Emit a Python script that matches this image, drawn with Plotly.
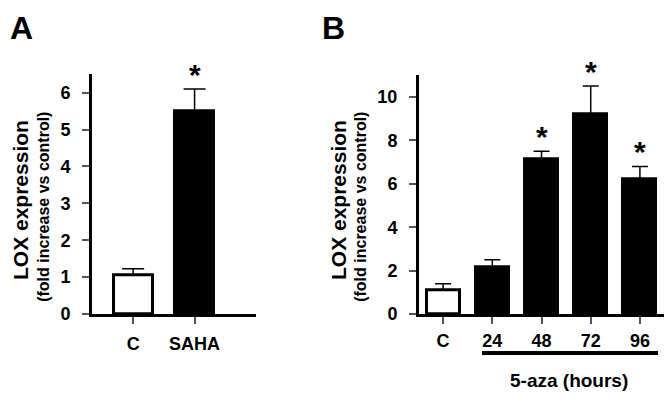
import plotly.graph_objects as go

# panel A: SAHA treatment
a_labels = ['C', 'SAHA']
a_values = [1.05, 5.5]
a_err = [0.18, 0.6]
a_fill = ['white', 'black']
a_sig = [False, True]

# panel B: 5-aza time course (hours)
b_labels = ['C', '24', '48', '72', '96']
b_values = [1.1, 2.15, 7.15, 9.2, 6.2]
b_err = [0.3, 0.35, 0.35, 1.3, 0.6]
b_fill = ['white', 'black', 'black', 'black', 'black']
b_sig = [False, False, True, True, True]

# page body has an 8px margin, so the figure is drawn 8px smaller and offset
OFF = 8
W, H = 672 - OFF, 403 - OFF
FONT = 'Liberation Sans, Arial, sans-serif'


def px(x):
    return (x - OFF) / W


def py(y):
    return 1 - (y - OFF) / H


def bold(size):
    return dict(family=FONT, size=size, color='black', weight='bold')


fig = go.Figure()

fig.add_trace(go.Bar(
    x=a_labels, y=a_values, width=0.64,
    marker=dict(color=a_fill, line=dict(color='black', width=3)),
    error_y=dict(type='data', array=a_err, arrayminus=[0] * len(a_err), symmetric=False,
                 color='black', thickness=1.5, width=11),
    xaxis='x', yaxis='y', showlegend=False
))

fig.add_trace(go.Bar(
    x=b_labels, y=b_values, width=0.67,
    marker=dict(color=b_fill, line=dict(color='black', width=3)),
    error_y=dict(type='data', array=b_err, arrayminus=[0] * len(b_err), symmetric=False,
                 color='black', thickness=1.5, width=8),
    xaxis='x2', yaxis='y2', showlegend=False
))

axis_common = dict(showgrid=False, zeroline=False, showline=True, linecolor='black',
                   linewidth=3, ticks='outside', ticklen=7, tickwidth=1.5, tickcolor='#555',
                   tickfont=bold(18))

fig.update_layout(
    width=W, height=H,
    margin=dict(l=0, r=0, t=0, b=0),
    paper_bgcolor='white', plot_bgcolor='white',
    bargap=0,
    xaxis=dict(axis_common, type='category', domain=[px(92), px(256)], range=[-0.67, 2.0],
               anchor='y', ticklabelstandoff=4),
    yaxis=dict(axis_common, domain=[py(322), py(76)], range=[0, 6.5], dtick=1,
               anchor='x', ticklabelstandoff=8),
    xaxis2=dict(axis_common, type='category', domain=[px(419), px(665)], range=[-0.49, 4.51],
                anchor='y2', ticklabelstandoff=1),
    yaxis2=dict(axis_common, domain=[py(322), py(77)], range=[0, 11], dtick=2,
                anchor='x2', ticklabelstandoff=8),
)

# significance asterisks (x given as category index)
for i, (v, e, s) in enumerate(zip(a_values, a_err, a_sig)):
    if s:
        fig.add_annotation(x=i, y=v + e, xref='x', yref='y', text='*', showarrow=False,
                           xanchor='center', yanchor='bottom', yshift=-4, font=bold(30))
for i, (v, e, s) in enumerate(zip(b_values, b_err, b_sig)):
    if s:
        fig.add_annotation(x=i, y=v + e, xref='x2', yref='y2', text='*', showarrow=False,
                           xanchor='center', yanchor='bottom', yshift=-4, font=bold(30))

# panel letters and y titles
for letter, xc in [('A', 22), ('B', 333)]:
    fig.add_annotation(x=px(xc), y=1, xref='paper', yref='paper', text=letter,
                       showarrow=False, xanchor='center', yanchor='top', font=bold(32))

for xm, xs in [(20, 44), (338, 361)]:
    fig.add_annotation(x=px(xm), y=py(205), xref='paper', yref='paper', text='LOX expression',
                       textangle=-90, showarrow=False, xanchor='center', yanchor='middle',
                       font=bold(21))
    fig.add_annotation(x=px(xs), y=py(212), xref='paper', yref='paper',
                       text='(fold increase vs control)', textangle=-90, showarrow=False,
                       xanchor='center', yanchor='middle', font=bold(16))

# 5-aza bracket line and label
fig.add_shape(type='line', xref='paper', yref='paper', x0=px(482), x1=px(658),
              y0=py(362), y1=py(362), line=dict(color='black', width=4))
fig.add_annotation(x=px(569), y=py(390), xref='paper', yref='paper', text='5-aza (hours)',
                   showarrow=False, xanchor='center', yanchor='middle', font=bold(19))

fig.write_html('out.html')
